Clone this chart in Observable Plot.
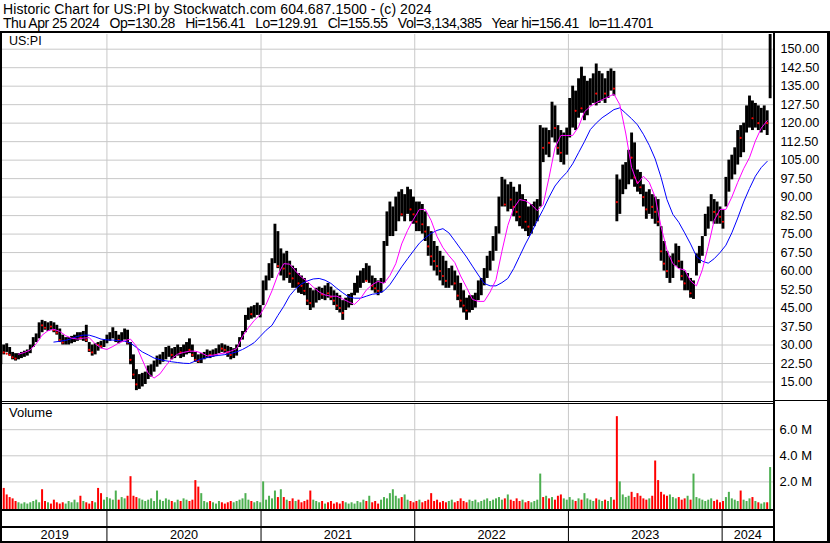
<!DOCTYPE html>
<html><head><meta charset="utf-8">
<script src="https://cdn.jsdelivr.net/npm/d3@7"></script>
<script src="https://cdn.jsdelivr.net/npm/@observablehq/plot@0.6"></script>
<style>
body{margin:0;background:#fff}
#chart{position:relative;width:830px;height:543px;background:#fff;overflow:hidden;font-family:"Liberation Sans",Arial,sans-serif;color:#000}
.abs{position:absolute}
.blk{position:absolute;background:#000}
.title{position:absolute;left:3px;font-size:14px;white-space:pre;line-height:15px}
</style></head>
<body>
<div id="chart">
 <div class="title" style="top:1.5px;letter-spacing:0.08px">Historic Chart for US:PI by Stockwatch.com 604.687.1500 - (c) 2024</div>
 <div class="title" style="top:16px;letter-spacing:-0.48px">Thu Apr 25 2024   Op=130.28   Hi=156.41   Lo=129.91   Cl=155.55   Vol=3,134,385   Year hi=156.41   lo=11.4701</div>
 <div id="price" class="abs" style="left:0;top:33px"></div>
 <div id="vol" class="abs" style="left:0;top:403px"></div>
 <div id="years" class="abs" style="left:0;top:511px"></div>
 <div class="abs" style="left:9px;top:34.4px;font-size:12.5px;line-height:14px">US:PI</div>
 <div class="abs" style="left:9px;top:405px;font-size:13px;line-height:15px">Volume</div>
 <div class="blk" style="left:0;top:31px;width:830px;height:2px"></div>
 <div class="blk" style="left:0;top:31px;width:2px;height:512px"></div>
 <div class="blk" style="left:827px;top:31px;width:3px;height:512px"></div>
 <div class="blk" style="left:0;top:541px;width:830px;height:2px"></div>
 <div class="blk" style="left:773px;top:31px;width:2px;height:512px"></div>
 <div class="blk" style="left:2px;top:401px;width:771px;height:1px"></div>
 <div class="blk" style="left:2px;top:403px;width:771px;height:1px"></div>
 <div class="blk" style="left:775px;top:400px;width:52px;height:1px"></div>
 <div class="blk" style="left:2px;top:509px;width:771px;height:2px"></div>
 <div class="blk" style="left:2px;top:526px;width:771px;height:2px"></div>
</div>
<script>
// ---- tick labels / categories ----
const priceTicks = [15,22.5,30,37.5,45,52.5,60,67.5,75,82.5,90,97.5,105,112.5,120,127.5,135,142.5,150];
const volTicks = [2,4,6];
const yearLabels = ["2019","2020","2021","2022","2023","2024"];
const yearStarts = ["2020-01-01","2021-01-01","2022-01-01","2023-01-01","2024-01-01"];
const firstWeek = "2019-04-24";
const lastDay = "2024-04-25";

// ---- weekly series ----
const high = [30,30,30.5,29,27,26.5,26.5,27,27.5,28,
30,33,34.5,39,40,39.5,39,39.5,39,38,
36.5,34,33,33,33.5,34,35,35,35.5,38,
31,30,30.5,31,31.5,32,34,35,37,35.5,
34,35,36.5,36,31,26,20,18,18.5,19,
21.5,22,23.5,25.5,26,27,29,29.5,28.5,29,
30,29,30,31,32.5,30,27,26,26.5,27,
28,27.5,28,28.5,30,30.5,30,29.5,29,28.5,
30,33,35.5,42,45,45.5,46,47,46,56,
58,63,65,79,76,69,67,68,64,62,
61,59,58,57,55,53,52,53,53.5,53,
54,55,53.5,52,51,50,48,49,50.5,51,
55,58,60,61,63,62,58,57,56,57,
72,84,88,86,90,92,93,91,94,93,
90,88,88,87,84,78,76,72,70,68,
66,64,61,62,60,58,55,52,49,50,
50,51,56,57,61,66,68,74,78,90,
98,97,95,96,94,92,95,91,89,86,
87,88,89,119,118,118,117,128.5,127,119,
117,116,118,130,135,133,138,142.7,139,137,
138,140,144,141,140,138,141,142,141,99,
97,103,104,109,116,112,101,100,95,92,
93,91,90,89,78,72,68,66,67,71,
70,64,60,59,57,56,67,70,74,83,
86,91,89,88,86,85,98,105,107,110,
117,119,120,127,131,129,128,127,126,127,
125,156.41];
const low = [22,26,27,25.5,24,23.5,24,24.5,25,25.5,
26.5,29,31,32.5,35,36,35.5,36,35,34,
31,30,30,30,30.5,31,31.5,32,31.5,31,
27,25.5,26,27.5,28.5,29,30.5,31.5,32.5,31,
30.5,31,32,30,22,16,11.5,12,13,14,
16,17,19,21,22,23,24,25,24,24.5,
25.5,24.5,25,26,26.5,25,23,22.5,22.5,24,
24.5,24.5,25,25.5,26.5,27,26.5,25,24,24.5,
25.5,29,32,35,40,40.5,41,42,41,46,
52,56,57,63,61,58,56,57,55,53,
53,51,50.5,50,46,44,45,47,48,48.5,
48,49,48,46,44,43,40,44,45,46,
50,51,53,55,56,55,52,51,50,51,
55,70,74,74,76,80,82,80,83,80,
79,76,76,75,72,66,62,60,58,56,
54,53,53,54,52,48,45,43,40,43,
44,45,48,50,54,57,60,64,68,75,
86,86,84,85,82,80,78,77,76,74,
75,78,80,86,104,107,106,114,112,107,
104,103,107,114,118,117,122,124,121,123,
127,128,127,128,129,128,130,133,131,80,
83,91,93,95,97,94,92,91,86,81,
83,81,79,78,64,60,57,55,57,62,
61,56,52,52,49,48.5,58,63,66,74,
77,80,79,79,79,77,86,92,97,99,
103,106,108,116,118,117,118,117,116,117,
115,129.91];
const close = [28,27,26.5,26,25,24.5,25.5,26,26.5,27,
29.5,32,33.5,38.5,38,37,38,37.5,36,35,
32,31,31.5,32,32,33,33.5,33,33,32,
28,27,30.5,30,29.5,31,33,34,35,35.3,
32,33.5,34,31,24,18,14,15,16,17.5,
19,20.5,22,23.5,25,26,27,27.5,26,27.5,
28,27,28.5,29,28,26,24,23.5,25,26,
26.5,26,27,27.5,29,28.5,28,27,26,27,
29,32.5,34.5,41,43,42.5,44,44.5,45,54,
57,60,62,72,62,64,61,64,59,57,
58,55,54,52,48,47,50,51,51,50.5,
52,51,49.5,48,46,45,43,47,48.5,50,
53,56,57,59,56,58,54,53,52,55,
70,80,82,84,85,88,83,86,89,85,
83,80,84,79,76,70,66,64,62,60,
58,56,57,58,55,50,48,46,44,47,
48,49,53,55,59,63,66,71,76,88,
94,87,90,89,86,84,82,84,80,78,
83,84,86,114,110,114,112,122,118,110,
108,112,115,126,129,125,130,126,130,131,
133,135,132,134,136,132,137,138,134,88,
92,98,100,108,106,98,96,94,90,85,
88,86,84,80,68,63,60,61,63,66,
64,58,55,56,51,54,64,68,72,80,
82,86,84,83,82,80,95,100,103,106,
116,114,116,123,127,122,125,120,122,124,
120,155.55];
// volume in millions of shares
const volume = [2.7,1.5,1.0,0.8,0.7,0.5,0.4,0.3,0.4,0.3,
0.4,0.5,0.6,0.4,1.4,0.5,0.4,0.3,0.6,0.4,
0.3,0.4,0.3,0.5,0.4,0.6,0.4,0.9,0.5,0.4,
0.3,0.5,0.4,1.5,1.1,0.6,0.8,0.7,0.6,1.3,
0.6,0.8,0.7,0.9,2.4,0.9,0.8,0.7,0.6,0.5,
0.6,0.7,0.5,1.3,0.6,0.5,0.7,0.6,0.5,0.4,
0.6,0.5,0.7,0.6,0.5,0.6,2.1,1.6,1.1,0.5,
0.4,0.5,0.4,0.3,0.5,0.4,0.3,0.4,0.5,0.4,
0.5,0.6,0.7,1.1,0.6,0.5,0.4,0.5,0.4,2.0,
0.6,0.9,0.7,1.3,0.8,1.4,0.8,0.6,0.5,0.7,
0.5,0.6,0.4,0.5,0.6,1.3,0.6,0.5,0.4,0.5,
0.3,0.4,0.5,0.3,0.4,0.3,0.5,0.4,0.3,0.4,
0.3,0.5,0.4,0.6,0.5,0.9,0.4,0.5,0.3,0.6,
0.8,0.7,1.1,1.4,0.9,0.7,0.8,1.0,0.6,0.5,
0.4,0.5,0.6,0.4,0.5,0.6,1.1,0.5,0.6,0.4,
0.5,0.4,0.5,0.6,0.4,0.5,0.7,0.5,0.4,0.6,
0.5,0.6,0.4,0.5,0.6,0.7,0.5,0.6,0.7,0.8,
0.6,0.7,1.0,0.6,0.5,0.7,0.5,0.6,0.4,0.5,
0.4,0.5,0.6,2.6,0.8,0.9,0.7,0.8,0.6,0.9,
1.0,0.7,0.6,0.8,0.6,0.5,0.7,0.6,1.1,0.7,
0.6,0.5,0.7,0.6,0.5,0.6,0.5,0.8,0.6,7.0,
2.0,1.0,0.8,0.9,1.2,0.8,1.1,0.9,0.7,0.6,
0.7,0.9,3.6,2.1,1.2,1.0,0.9,1.0,0.8,0.7,
0.8,0.6,0.7,0.9,0.6,2.6,0.8,0.7,0.6,0.5,
0.6,0.7,0.5,0.6,0.4,0.5,0.8,1.2,0.7,0.6,
0.5,1.3,0.6,0.5,0.7,0.8,0.5,0.4,0.3,0.4,
0.4,3.1];
// moving averages, every second week (magenta short, blue long)
const maShort = [null,null,null,26.3,27,28,30.5,34,35.8,36.4,35.5,33.8,32.8,32.4,32.8,33,30.5,28.8,28.2,29.4,
30.8,31.8,32.4,29.5,24,18.5,16.6,18.3,21.6,24.5,26.3,27,27.5,27.5,26.8,25.6,25.9,26.4,26.8,27.5,
28.5,33.5,37,40,42.3,46.5,52,58.5,63,62.8,60,57.5,55.8,53.5,51.5,50.3,49.8,49.8,48.7,47.5,
46.5,48.8,52.3,54.5,55.8,55,58.2,63,71,76.5,81,85,85,80.5,74,69.5,66.3,63.5,58,53.4,
48.5,47.7,47.7,51.5,56.5,68,78.5,85.5,89,88.5,87,84.5,87,98,110,115,115,115,118.5,124.6,
126.8,128.3,129.5,130.6,131.8,127.5,116,102,95.4,98.5,96,90,78,68.5,63,61,60.5,56,54,60.5,
70,80.5,85,85,90,96,101.5,106,112.8,118,121];
const maLong = [null,null,null,null,null,null,null,null,null,31.2,31.5,31.9,32.6,33.5,34,34,33.3,32.4,32.1,32,
31.8,31.5,30.8,29,27.2,26,24.7,24.1,23.6,23.2,22.9,22.6,22.5,23.5,24.3,24.9,25.5,25.8,26.1,26.6,
27.2,28.2,29.5,31,33.5,36,38,42,45.7,50,52.8,54.8,56,56.8,57,56.3,55,53,51.2,49.5,
49,49,49.8,50.6,50.9,52,54.5,58,61.7,65,68.2,71.3,73.5,75.3,76.5,77.2,75.5,72.3,69,65.7,
62,58.4,55,54,54,55.3,57,61,66,71,75.5,80.5,85,90,94.5,97.5,100,103.5,108,112.5,
117.4,120,122.2,123.8,125.5,126.2,124,121.8,119.3,115.5,111,105.5,98,89,83,79.8,75.5,71,66,64,
63.2,65,67.5,70.5,75.5,81.5,88,93.5,98.5,102,104.5];

// ---- build tables ----
const weeks = d3.utcWednesday.range(new Date(firstWeek), new Date(lastDay));
for (const [n, a] of [["high",high],["low",low],["close",close],["volume",volume]]) {
  if (a.length !== weeks.length) throw new Error(n + " length " + a.length + " vs " + weeks.length);
}
const bars = weeks.map((date, i) => ({date, high: high[i], low: low[i], close: close[i], vol: volume[i],
  up: i === 0 || close[i] >= close[i - 1]}));
const maDates = weeks.filter((d, i) => i % 2 === 0);
if (maShort.length !== maDates.length || maLong.length !== maDates.length) throw new Error("ma length " + maShort.length + " " + maLong.length + " vs " + maDates.length);
const maRows = maDates.map((date, k) => ({date, s: maShort[k], l: maLong[k]}));
const yearDates = yearStarts.map(s => new Date(s));
const xDomain = [new Date("2019-04-28"), new Date("2024-05-02")];
const bounds = [xDomain[0], ...yearDates, xDomain[1]];
const yearMids = yearLabels.map((label, k) => ({label, mid: new Date((+bounds[k] + +bounds[k + 1]) / 2)}));

const font = "'Liberation Sans', Arial, sans-serif";
const X = {type: "utc", domain: xDomain, range: [2, 773], axis: null};
const grid = "#c8c8c8";

const pricePlot = Plot.plot({
  width: 830, height: 368, marginLeft: 2, marginRight: 57, marginTop: 1, marginBottom: 0,
  style: {background: "transparent", fontFamily: font, fontSize: "12.7px", color: "#000", overflow: "visible"},
  x: X,
  y: {domain: [15, 150], range: [348.5, 15.7]},
  marks: [
    Plot.gridY(priceTicks, {stroke: grid, strokeOpacity: 1}),
    Plot.gridX(yearDates, {stroke: grid, strokeOpacity: 1}),
    Plot.ruleX(bars, {x: "date", y1: "low", y2: "high", stroke: "#000", strokeWidth: 2.9, clip: true}),
    Plot.dot(bars.filter(d => !d.up), {x: "date", y: "close", r: 1.1, fill: "#ff0000", stroke: null, clip: true}),
    Plot.line(maRows.filter(d => d.l != null), {x: "date", y: "l", stroke: "#0000ff", strokeWidth: 1, clip: true}),
    Plot.line(maRows.filter(d => d.s != null), {x: "date", y: "s", stroke: "#ff00ff", strokeWidth: 1, clip: true}),
    Plot.axisY(priceTicks, {anchor: "right", tickSize: 0, tickPadding: 7, tickFormat: d => d.toFixed(2), fontSize: 12.7, label: null})
  ]
});
document.getElementById("price").append(pricePlot);

const volPlot = Plot.plot({
  width: 830, height: 106, marginLeft: 2, marginRight: 57, marginTop: 0, marginBottom: 0,
  style: {background: "transparent", fontFamily: font, fontSize: "13px", color: "#000", overflow: "visible"},
  x: X,
  y: {domain: [0, 6], range: [104.5, 26.2]},
  marks: [
    Plot.gridY(volTicks, {stroke: grid, strokeOpacity: 1}),
    Plot.gridX(yearDates, {stroke: grid, strokeOpacity: 1}),
    Plot.ruleX(bars.filter(d => d.up), {x: "date", y1: -0.2, y2: "vol", stroke: "#4caf50", strokeWidth: 2, clip: true}),
    Plot.ruleX(bars.filter(d => !d.up), {x: "date", y1: -0.2, y2: "vol", stroke: "#ff0000", strokeWidth: 2, clip: true}),
    Plot.axisY(volTicks, {anchor: "right", tickSize: 0, tickPadding: 6, tickFormat: d => d.toFixed(1) + " M", fontSize: 13, label: null})
  ]
});
document.getElementById("vol").append(volPlot);

const yearPlot = Plot.plot({
  width: 830, height: 30, marginLeft: 2, marginRight: 57, marginTop: 0, marginBottom: 0,
  style: {background: "transparent", fontFamily: font, fontSize: "12.7px", color: "#000", overflow: "visible"},
  x: X,
  marks: [
    Plot.ruleX(yearDates, {stroke: "#000", strokeWidth: 1}),
    Plot.text(yearMids, {x: "mid", text: "label", frameAnchor: "top", dy: 23, lineAnchor: "middle", fontSize: 12.7})
  ]
});
document.getElementById("years").append(yearPlot);
</script>
</body></html>
